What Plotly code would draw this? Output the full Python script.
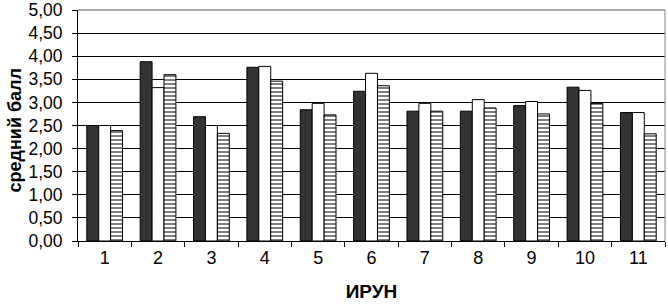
import plotly.graph_objects as go

categories = ["1", "2", "3", "4", "5", "6", "7", "8", "9", "10", "11"]
series_dark = [2.50, 3.88, 2.69, 3.76, 2.84, 3.24, 2.81, 2.81, 2.93, 3.33, 2.78]
series_white = [2.50, 3.32, 2.50, 3.78, 2.98, 3.63, 2.98, 3.06, 3.02, 3.26, 2.78]
series_striped = [2.39, 3.60, 2.33, 3.46, 2.73, 3.36, 2.81, 2.88, 2.75, 2.98, 2.32]
y_ticks = [0, 0.5, 1, 1.5, 2, 2.5, 3, 3.5, 4, 4.5, 5]
y_tick_labels = ["0,00", "0,50", "1,00", "1,50", "2,00", "2,50", "3,00", "3,50", "4,00", "4,50", "5,00"]

FONT = "Liberation Sans, Arial, sans-serif"

fig = go.Figure()
fig.add_trace(go.Bar(x=categories, y=series_dark,
                     marker=dict(color="#333333", line=dict(color="black", width=1))))
fig.add_trace(go.Bar(x=categories, y=series_white,
                     marker=dict(color="white", line=dict(color="black", width=1))))
fig.add_trace(go.Bar(x=categories, y=series_striped,
                     marker=dict(color="white", line=dict(color="black", width=1),
                                 pattern=dict(shape="-", size=4, solidity=0.5,
                                              fgcolor="#000000", bgcolor="white",
                                              fillmode="overlay"))))

fig.update_layout(
    width=668, height=308,
    margin=dict(l=78, r=3, t=10, b=67, autoexpand=False),
    paper_bgcolor="white", plot_bgcolor="white",
    barmode="group", bargap=0.33, bargroupgap=0,
    showlegend=False, hovermode=False,
    font=dict(family=FONT, size=18, color="black"),
    xaxis=dict(
        type="category", showline=True, linecolor="black", linewidth=1,
        ticks="outside", tickson="boundaries", ticklen=5, tickcolor="black",
        showgrid=False, automargin=False,
        tickfont=dict(size=18),
        title=dict(text="<b>ИРУН</b>", font=dict(size=19), standoff=18),
    ),
    yaxis=dict(
        range=[0, 5.0001], tickvals=y_ticks, ticktext=y_tick_labels,
        showline=True, linecolor="black", linewidth=1,
        ticks="outside", ticklen=5, tickcolor="black",
        ticklabelstandoff=6, ticklabeloverflow="allow",
        showgrid=True, gridcolor="black", gridwidth=1,
        automargin=False,
        tickfont=dict(size=17.5),
    ),
    annotations=[dict(text="<b>средний балл</b>", xref="paper", yref="paper",
                      x=0, y=0.5, xanchor="center", yanchor="middle",
                      xshift=-64, yshift=-5, textangle=-90, showarrow=False,
                      font=dict(size=18))],
    shapes=[dict(type="line", xref="paper", yref="paper", x0=1, x1=1, y0=0, y1=1,
                 line=dict(color="#888888", width=1)),
            dict(type="line", xref="paper", yref="paper", x0=0, x1=1, y0=1, y1=1,
                 line=dict(color="#555555", width=1))],
)

fig.write_html("out.html", config={"displayModeBar": False, "staticPlot": True},
               post_script="document.body.style.margin='0';document.body.style.overflow='hidden';")
